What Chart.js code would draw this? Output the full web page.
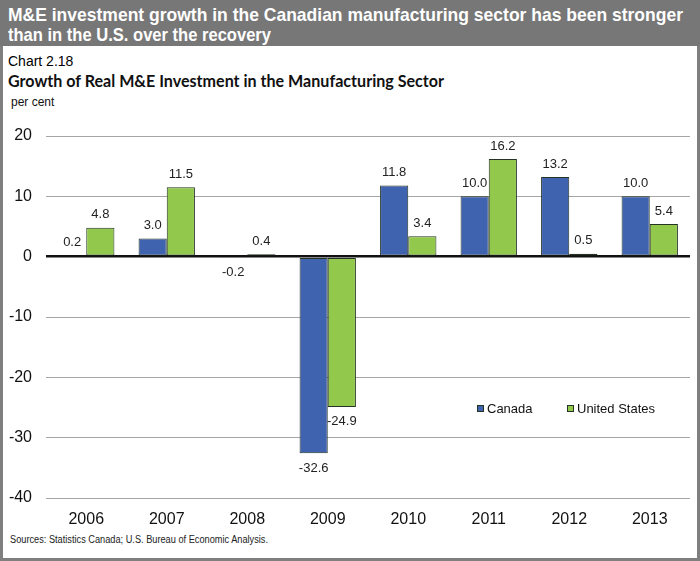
<!DOCTYPE html>
<html>
<head>
<meta charset="utf-8">
<script src="https://cdn.jsdelivr.net/npm/chart.js@4/dist/chart.umd.min.js"></script>
<style>
  body { margin: 0; background: #fff; }
  #wrap { position: relative; width: 700px; height: 561px; overflow: hidden; font-family: "Liberation Sans", Arial, sans-serif; }
  #head { position: absolute; left: 0; top: 0; width: 700px; height: 46px; background: #777777; }
  #panel { position: absolute; left: 0; top: 46px; width: 694px; height: 512px; border: 3px solid #7f7f7f; border-top: none; }
  .txt { position: absolute; white-space: nowrap; transform-origin: 0 0; }
  #t1, #t2 { left: 8px; color: #fff; font-weight: bold; font-size: 19px; }
  #t1 { top: 4px; }
  #t2 { top: 24px; }
  #num { left: 8px; top: 53px; font-size: 14px; color: #000; }
  #sub { left: 8px; top: 70px; font-size: 17px; font-weight: bold; color: #111; font-family: Lato, "Liberation Sans", sans-serif; }
  #unit { left: 11px; top: 95px; font-size: 12px; color: #111; }
  #src { left: 10px; top: 534px; font-size: 10px; color: #222; }
  canvas { position: absolute; left: 0; top: 0; }
</style>
</head>
<body>
<div id="wrap">
  <div id="head"></div>
  <div id="panel"></div>
  <div class="txt" id="t1" data-w="675">M&amp;E investment growth in the Canadian manufacturing sector has been stronger</div>
  <div class="txt" id="t2" data-w="263">than in the U.S. over the recovery</div>
  <div class="txt" id="num">Chart 2.18</div>
  <div class="txt" id="sub" data-w="436">Growth of Real M&amp;E Investment in the Manufacturing Sector</div>
  <div class="txt" id="unit">per cent</div>
  <div class="txt" id="src" data-w="258">Sources: Statistics Canada; U.S. Bureau of Economic Analysis.</div>
  <canvas id="chart" width="700" height="561"></canvas>
</div>
<script>
// data
const years = ['2006', '2007', '2008', '2009', '2010', '2011', '2012', '2013'];
const canada = [0.2, 3.0, -0.2, -32.6, 11.8, 10.0, 13.2, 10.0];
const unitedStates = [4.8, 11.5, 0.4, -24.9, 3.4, 16.2, 0.5, 5.4];
const seriesNames = ['Canada', 'United States'];
const yTicks = [20, 10, 0, -10, -20, -30, -40];

const BLUE = '#3f63ae';
const GREEN = '#92c84b';
const EDGE = '#253325';

// squeeze header texts to the width they take in the original
document.querySelectorAll('.txt[data-w]').forEach(el => {
    const target = +el.dataset.w;
    const w = el.getBoundingClientRect().width;
    el.style.transform = 'scaleX(' + (target / w) + ')';
});

const valueLabels = {
    id: 'valueLabels',
    afterDatasetsDraw(chart) {
        const ctx = chart.ctx;
        ctx.save();
        ctx.font = '13px "Liberation Sans", Arial, sans-serif';
        ctx.fillStyle = '#222';
        ctx.textAlign = 'center';
        ctx.textBaseline = 'middle';
        chart.data.datasets.forEach((ds, i) => {
            chart.getDatasetMeta(i).data.forEach((bar, j) => {
                const v = ds.data[j];
                const y = v >= 0 ? bar.y - 13 : bar.y + 15;
                ctx.fillText(v.toFixed(1), bar.x, y);
            });
        });
        ctx.restore();
    }
};

const innerLegend = {
    id: 'innerLegend',
    afterDraw(chart) {
        const ctx = chart.ctx;
        const area = chart.chartArea;
        let x = area.left + 431;
        const y = area.top + 273;
        ctx.save();
        ctx.font = '13px "Liberation Sans", Arial, sans-serif';
        ctx.textBaseline = 'middle';
        chart.data.datasets.forEach(ds => {
            ctx.fillStyle = ds.backgroundColor;
            ctx.fillRect(x, y - 4, 7, 7);
            ctx.strokeStyle = EDGE;
            ctx.lineWidth = 1;
            ctx.strokeRect(x + 0.5, y - 3.5, 6, 6);
            ctx.fillStyle = '#111';
            ctx.fillText(ds.label, x + 10, y);
            x += 90;
        });
        ctx.restore();
    }
};

new Chart(document.getElementById('chart').getContext('2d'), {
    type: 'bar',
    data: {
        labels: years,
        datasets: [
            { label: seriesNames[0], data: canada, backgroundColor: BLUE },
            { label: seriesNames[1], data: unitedStates, backgroundColor: GREEN }
        ].map(ds => ({
            ...ds,
            borderColor: EDGE,
            borderWidth: 1,
            borderSkipped: false,
            categoryPercentage: 0.7,
            barPercentage: 1.0
        }))
    },
    options: {
        responsive: false,
        animation: false,
        layout: { padding: { top: 136, left: 0, right: 10, bottom: 13 } },
        plugins: {
            legend: { display: false },
            tooltip: { enabled: false }
        },
        scales: {
            x: {
                grid: { display: false, drawTicks: false },
                border: { display: false },
                ticks: {
                    color: '#111',
                    padding: 12,
                    font: { family: '"Liberation Sans", Arial, sans-serif', size: 16 }
                },
                afterFit(scale) { scale.height = 50; }
            },
            y: {
                min: yTicks[yTicks.length - 1],
                max: yTicks[0],
                afterBuildTicks(scale) { scale.ticks = yTicks.map(v => ({ value: v })); },
                grid: {
                    drawTicks: false,
                    color: c => c.tick.value === 0 ? '#111' : '#a6a6a6',
                    lineWidth: c => c.tick.value === 0 ? 2.5 : 1
                },
                border: { display: false },
                ticks: {
                    color: '#111',
                    padding: 14,
                    font: { family: '"Liberation Sans", Arial, sans-serif', size: 16 }
                },
                afterFit(scale) { scale.width = 46; }
            }
        }
    },
    plugins: [valueLabels, innerLegend]
});
</script>
</body>
</html>
